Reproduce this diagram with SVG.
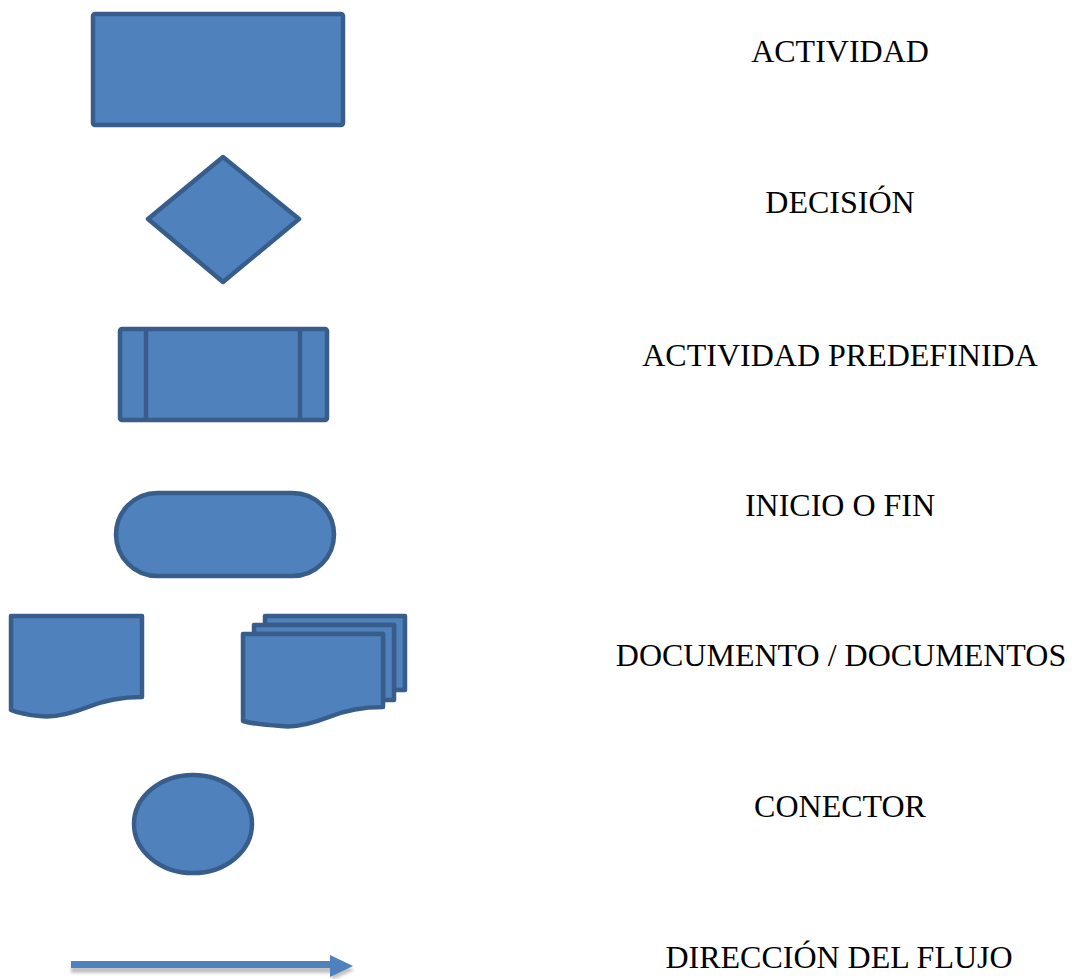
<svg xmlns="http://www.w3.org/2000/svg" width="1072" height="979" viewBox="0 0 1072 979">
  <style>
    .shape { fill: #4f81bd; stroke: #385d8a; stroke-width: 4.5; stroke-linejoin: round; }
    .label { font-family: "Liberation Serif", "Times New Roman", serif; font-size: 32px; fill: #000; text-anchor: middle; }
  </style>
  <defs>
    <filter id="soft" x="-10%" y="-100%" width="120%" height="300%">
      <feGaussianBlur stdDeviation="1.5"/>
    </filter>
  </defs>
  <rect width="1072" height="979" fill="#ffffff"/>

  <g id="actividad">
    <rect class="shape" x="93" y="14" width="250" height="111" rx="2"/>
    <text class="label" x="840" y="62">ACTIVIDAD</text>
  </g>

  <g id="decision">
    <polygon class="shape" points="223,157 299,219 223,282 148,219"/>
    <text class="label" x="840" y="213">DECISIÓN</text>
  </g>

  <g id="actividad-predefinida">
    <rect class="shape" x="120" y="329" width="207" height="91" rx="2"/>
    <line class="shape" x1="146" y1="329" x2="146" y2="420"/>
    <line class="shape" x1="300" y1="329" x2="300" y2="420"/>
    <text class="label" x="840" y="366">ACTIVIDAD PREDEFINIDA</text>
  </g>

  <g id="inicio-fin">
    <rect class="shape" x="116" y="493" width="218" height="83" rx="41.5"/>
    <text class="label" x="840" y="516">INICIO O FIN</text>
  </g>

  <g id="documentos">
    <path class="shape" d="M11,616 H142 V697 C122,697 105,700 88,707 C70,714 55,718 40,716 C28,715 18,713 11,710 Z"/>
    <path class="shape" d="M265,616 H405 V690 H394 V625 H265 Z"/>
    <path class="shape" d="M254,625 H394 V700 H383 V634 H254 Z"/>
    <path class="shape" d="M243,634 H383 V707 C363,707 346,710 329,717 C311,724 296,728 281,726 C265,725 253,724 243,721 Z"/>
    <text class="label" x="841" y="666">DOCUMENTO / DOCUMENTOS</text>
  </g>

  <g id="conector">
    <ellipse class="shape" cx="193" cy="824" rx="59" ry="49"/>
    <text class="label" x="840" y="817">CONECTOR</text>
  </g>

  <g id="connectors">
    <!-- soft drop shadow under the flow arrow -->
    <path d="M71,966 H332 V960 L354,970 L332,980 V973 H71 Z" fill="#9a9a9a" opacity="0.6" filter="url(#soft)"/>
    <path d="M71,961 H330 V955 L353,966 L330,977 V968 H71 Z" fill="#4f81bd"/>
  </g>

  <g id="direccion-flujo">
    <text class="label" x="839" y="968">DIRECCIÓN DEL FLUJO</text>
  </g>
</svg>
